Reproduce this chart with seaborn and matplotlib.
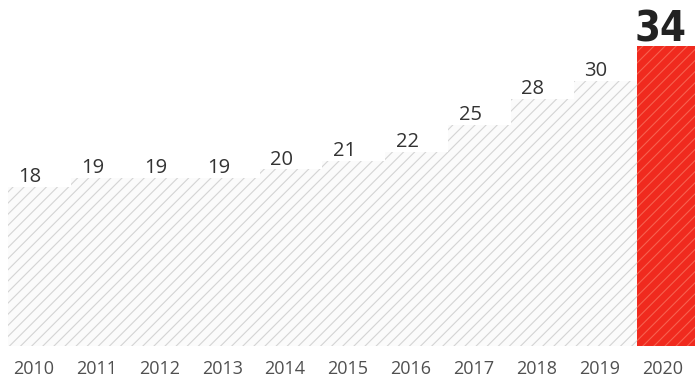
"""Barras anuales 2010-2020 con trama diagonal, 2020 resaltado en rojo."""

import matplotlib
matplotlib.use("Agg")
import matplotlib.pyplot as plt
import matplotlib.transforms as mtransforms
import seaborn as sns

# Datos
years = ["2010", "2011", "2012", "2013", "2014", "2015", "2016", "2017", "2018", "2019", "2020"]
values = [18, 19, 19, 19, 20, 21, 22, 25, 28, 30, 34]

GRAY_FACE = "#fbfbfb"
GRAY_HATCH = "#d4d4d4"
RED_FACE = "#f02a1e"
RED_HATCH = "#f7614f"

sns.set_style("white")
plt.rcParams["font.family"] = ["Open Sans", "DejaVu Sans"]
plt.rcParams["hatch.linewidth"] = 0.8

fig = plt.figure(figsize=(6.95, 3.79), dpi=100)
ax = fig.add_axes([0, 33 / 379, 1, 346 / 379])

palette = [GRAY_FACE] * (len(years) - 1) + [RED_FACE]
sns.barplot(x=years, y=values, hue=years, palette=palette, legend=False,
            width=1.0, saturation=1, linewidth=0, ax=ax)

# Trama diagonal
for i, patch in enumerate(ax.patches):
    last = i == len(years) - 1
    patch.set_hatch("///")
    patch.set_edgecolor(RED_HATCH if last else GRAY_HATCH)
    patch.set_linewidth(0)

# Etiquetas de valor
for i, v in enumerate(values):
    if i == len(values) - 1:
        ax.annotate(str(v), xy=(i, v), xytext=(-6, 3.5), textcoords="offset points",
                    ha="center", va="baseline", fontsize=30, fontweight="bold",
                    fontstretch="condensed", color="#222222",
                    family=["DejaVu Sans"])
    else:
        ax.annotate(str(v), xy=(i, v), xytext=(-7, 3.5), textcoords="offset points",
                    ha="center", va="baseline", fontsize=14.5, color="#333333")

px = 62.9
left = -0.5 - 8 / px
ax.set_xlim(left, left + 695 / px)
ax.set_ylim(0, 39.2)

ax.set_xlabel("")
ax.set_ylabel("")
ax.set_yticks([])
ax.tick_params(axis="x", length=0, pad=10, labelsize=13, labelcolor="#505050")
shift = mtransforms.ScaledTranslation(-6 / 100, 0, fig.dpi_scale_trans)
for lbl in ax.get_xticklabels():
    lbl.set_transform(lbl.get_transform() + shift)

sns.despine(ax=ax, left=True, bottom=True)

fig.savefig("out.png", dpi=100, facecolor="white")
